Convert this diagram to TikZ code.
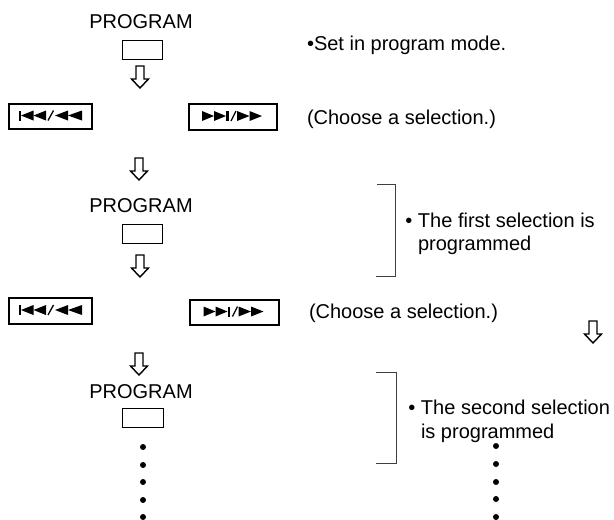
\documentclass[tikz,border=0pt]{standalone}
\usepackage{fontspec}
\setmainfont{Liberation Sans}
\begin{document}
\begin{tikzpicture}[x=1pt,y=-1pt,
  every node/.style={inner sep=0pt, outer sep=0pt},
  txt/.style={font=\fontsize{20}{24}\selectfont, anchor=base west},
  lbl/.style={font=\fontsize{20}{24}\selectfont, anchor=base},
  keybox/.style={draw, line width=1pt, minimum width=40pt, minimum height=19pt},
  button/.style={draw, line width=1.8pt, minimum height=25.5pt},
  arrowline/.style={line width=1.4pt, line join=miter},
  bracket/.style={line width=0.9pt, black!75},
  dot/.style={circle, fill, minimum size=6pt},
  rew/.pic={
    \fill (-32,-5) rectangle (-29.5,5);
    \fill (-29.5,0) -- (-17,-5) -- (-17,5) -- cycle;
    \fill (-17,0) -- (-4.5,-5) -- (-4.5,5) -- cycle;
    \draw[line width=1.3pt] (-2.5,5) -- (3,-5);
    \fill (4.5,0) -- (17.5,-5) -- (17.5,5) -- cycle;
    \fill (17.5,0) -- (31.5,-5) -- (31.5,5) -- cycle;
  },
  ffw/.pic={
    \fill (-31,-5) -- (-19,0) -- (-31,5) -- cycle;
    \fill (-19,-5) -- (-7,0) -- (-19,5) -- cycle;
    \fill (-7,-5) rectangle (-4.5,5);
    \draw[line width=1.3pt] (-2,5) -- (3,-5);
    \fill (4,-5) -- (16.5,0) -- (4,5) -- cycle;
    \fill (16.5,-5) -- (29,0) -- (16.5,5) -- cycle;
  },
  harrow/.pic={
    \draw[arrowline] (-4,0) -- (4,0) -- (4,13) -- (8.5,13) -- (0,22) -- (-8.5,13) -- (-4,13) -- cycle;
  }]
\useasboundingbox (0,0) rectangle (614,520);

% step 1
\node[lbl] (prog1) at (141,28) {PROGRAM};
\node[keybox] (key1) at (142.5,50) {};
\pic at (140,66) {harrow};
\node[button, minimum width=83pt] (rewA) at (50.5,116.5) {};
\pic at (50.5,115.5) {rew};
\node[button, minimum width=88pt] (ffwA) at (233,117) {};
\pic at (233,116) {ffw};
\node[txt] (t1) at (307,50) {•Set in program mode.};
\node[txt] (c1) at (307,124) {(Choose a selection.)};

% step 2
\pic at (139,158) {harrow};
\node[lbl] (prog2) at (141,212) {PROGRAM};
\node[keybox] (key2) at (142,234) {};
\pic at (140,255) {harrow};
\node[button, minimum width=83pt] (rewB) at (50.5,311) {};
\pic at (50.5,310) {rew};
\node[button, minimum width=89pt] (ffwB) at (234.5,312.5) {};
\pic at (234.5,311.5) {ffw};
\node[txt] (c2) at (309,318) {(Choose a selection.)};
\pic at (593,321) {harrow};

\draw[bracket] (377,184) -- (395,184) -- (395,276) -- (376,276);
\node[txt] (f1) at (418,227) {\llap{•\ }The first selection is};
\node[txt] (f2) at (418,250) {programmed};

% step 3
\pic at (139,353) {harrow};
\node[lbl] (prog3) at (141,398) {PROGRAM};
\node[keybox, minimum width=41pt] (key3) at (143,417.5) {};
\draw[bracket] (376,372) -- (396,372) -- (396,463) -- (376,463);
\node[txt] (s1) at (421,414) {\llap{•\ }The second selection};
\node[txt] (s2) at (421,438) {is programmed};

\foreach \y [count=\i] in {447,465,482,500,517}
  \node[dot] (dl\i) at (143,\y) {};
\foreach \y [count=\i] in {446,464,482,499,517}
  \node[dot] (dr\i) at (496,\y) {};
\end{tikzpicture}
\end{document}
